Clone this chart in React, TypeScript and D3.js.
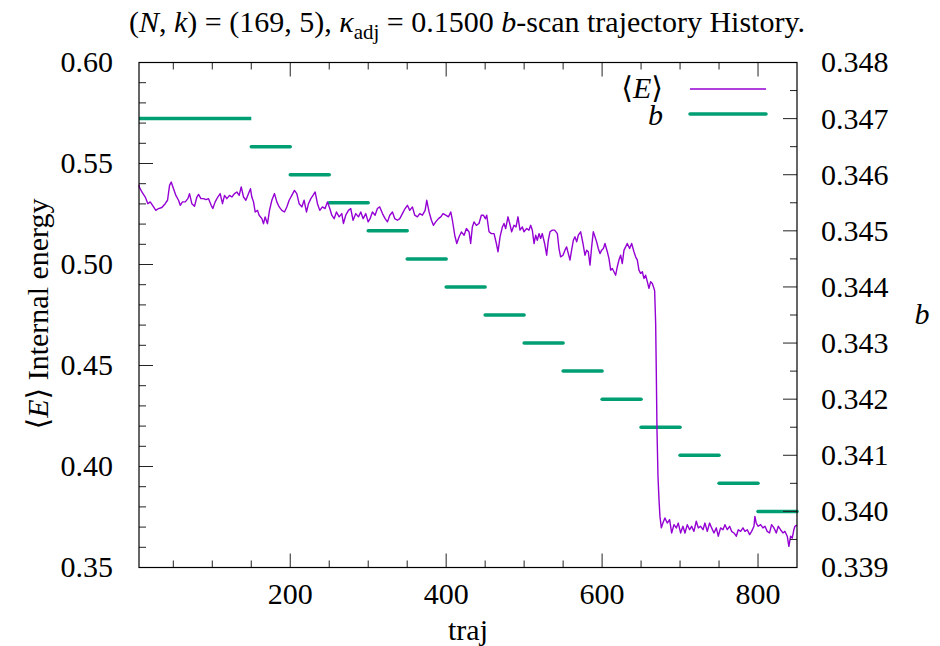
import React from "react";
import * as d3 from "d3";

const TRAJ: number[] = [
  6, 6.3, 9.7, 14, 17.4, 20.4, 24.7, 27.6, 31, 35.3, 39.6, 42.6, 45.2, 47.3, 50.3, 53.3, 56.7, 58.9, 61.8, 65.3,
  68.7, 70.8, 73.8, 77.2, 80.2, 82.4, 85.4, 88.8, 91.8, 95.2, 98.6, 100.7, 103.7, 107.1, 110.1, 113.1, 115.7, 118.7,
  122.1, 125.1, 128.5, 131.5, 134.5, 137.1, 140.1, 143.1, 146.5, 149, 150.7, 152.9, 155, 158, 160.1, 163.6, 165.7,
  167.8, 170.8, 173.4, 176.4, 179.8, 182.8, 185.8, 189.2, 192.6, 195.6, 198.6, 202, 205.4, 208.4,
  211.4, 214.8, 217.8, 220.8, 223.4, 226.4, 229.4, 231.9, 234.9, 237.9, 241.3, 244.7, 247.7, 250.7, 253.3, 256.3,
  259.3, 262.7, 266.1, 268.2, 271.2, 274.7, 277.6, 280.6, 284.1, 287.5, 290.5, 293.5, 296.9, 299.9, 302.4, 305.4,
  308.8, 311.8, 314.8, 318.3, 321.7, 324.7, 327.7, 331.1, 334.1, 337.5, 340.5, 343.9, 347.3, 350.3, 353.3, 356.7,
  359.7, 363.1, 366.1, 369.5, 373, 375.1, 378.1, 381.1, 383.6, 386.6, 390.1, 393.1, 396, 399.5, 402.9, 405.9, 408,
  411, 413.6, 416.6, 419.5, 423, 426, 429.4,
  431.4, 433.6, 435.7, 438.7, 442.1, 445.1, 447.7, 450.3, 452, 455, 458, 461.4, 464.4, 466.5, 469.1, 472.1, 474.2,
  476.3, 479.3, 481.5, 484, 487, 489.6, 492.1, 494.7, 497.7, 499.8, 503.3, 506.2, 508.4, 510.5, 512.7, 514.8, 516.9,
  519.1, 521.2, 523.3, 526.3, 528.9, 531, 533.2, 536.2, 539.1, 542.6, 544.7, 546.8, 549.8, 552.4, 554.5, 556.7,
  558.8, 560.9, 563.1, 565.2, 567.4, 569.5, 572.5, 575.5, 578, 580.2, 582.3, 584.5, 586.6, 588.7, 590.9, 593, 595.1,
  597.3, 599.4, 601.6, 603.7, 606.7, 608.8, 611, 613.1, 615.2, 617.4, 619.5, 621.6, 623.8, 625.9, 628.1, 630.2,
  632.3, 635.3, 637.9, 640.9, 643, 645.2, 647.3, 649.4, 651.6, 653.7, 655.8, 658, 660.1, 662.3, 664.4, 666.5,
  667.4, 668.7, 669.5, 670.4, 671.7, 673, 674.2, 676, 678, 680.6, 683.6, 686.6, 689.2, 692.2, 695.2, 697.7, 700.7,
  703.7, 706.3, 709.3, 712.3, 714.8, 717.8, 720.8, 723.4, 726.4, 729.4, 731.9, 734.9, 737.9, 740.5, 743.5, 746.5,
  749, 752, 755, 757.6, 760.6, 763.6, 766.1, 769.1, 772.1, 774.7, 777.7, 780.7, 783.2, 786.2, 789.2, 791.8, 794.8,
  796, 797.7, 800.3, 803.3, 806.3, 808.9, 811.8, 814.8, 817.4, 820.4, 823.4, 826, 828.9, 831.9, 834.5, 837.5,
  839.6, 841.8, 843.9, 846, 847.3, 850,
];

const ENERGY: number[] = [
  0.5395, 0.5384, 0.5359, 0.5334, 0.5301, 0.531, 0.5285, 0.5268, 0.5277, 0.5282, 0.5301, 0.5318, 0.5392, 0.5408,
  0.5375, 0.5342, 0.5318, 0.5293, 0.531, 0.531, 0.5326, 0.5351, 0.5301, 0.5288, 0.5334, 0.5347, 0.5326, 0.5326,
  0.5321, 0.5326, 0.5293, 0.5277, 0.531, 0.5334, 0.5351, 0.5301, 0.5342, 0.5326, 0.5342, 0.5334, 0.5351, 0.5359,
  0.5342, 0.5384, 0.5334, 0.5318, 0.5351, 0.5375, 0.5334, 0.531, 0.526, 0.5268, 0.5244, 0.5227, 0.5202, 0.5235,
  0.5202, 0.5268, 0.5318, 0.5351, 0.531, 0.5285, 0.5268, 0.526, 0.5285, 0.5318, 0.5342, 0.5367, 0.5351,
  0.5301, 0.5285, 0.5318, 0.526, 0.5301, 0.5326, 0.5343, 0.5359, 0.5301, 0.5268, 0.5285, 0.5277, 0.531, 0.5277,
  0.5244, 0.5227, 0.526, 0.5236, 0.5252, 0.5203, 0.5244, 0.5268, 0.5277, 0.5219, 0.5252, 0.5236, 0.526, 0.5227,
  0.5252, 0.5211, 0.5227, 0.526, 0.5244, 0.5277, 0.5285, 0.5252, 0.5227, 0.5211, 0.5244, 0.526, 0.5227, 0.5219,
  0.5227, 0.5252, 0.5277, 0.5293, 0.5268, 0.5285, 0.5244, 0.5236, 0.5252, 0.5244, 0.5268, 0.5318, 0.526, 0.5219,
  0.5194, 0.5211, 0.5227, 0.5236, 0.5252, 0.5244, 0.5236, 0.526, 0.5219, 0.5145, 0.5104, 0.5137, 0.5161, 0.5145,
  0.5178, 0.5161,
  0.5104, 0.5186, 0.5211, 0.5194, 0.5203, 0.5244, 0.5244, 0.5227, 0.5244, 0.5162, 0.5153, 0.5153, 0.5104, 0.5063,
  0.5137, 0.5186, 0.5203, 0.5178, 0.5236, 0.5203, 0.5162, 0.5194, 0.5186, 0.5236, 0.517, 0.5186, 0.5162, 0.5178,
  0.517, 0.5194, 0.517, 0.5104, 0.5145, 0.512, 0.5153, 0.5129, 0.5153, 0.5104, 0.5046, 0.512, 0.5162, 0.517, 0.517,
  0.5153, 0.5079, 0.5038, 0.5046, 0.5071, 0.5087, 0.5054, 0.5022, 0.5071, 0.512, 0.5137, 0.5112, 0.5145, 0.5162,
  0.5104, 0.5046, 0.5071, 0.5063, 0.4997, 0.5087, 0.5162, 0.5137, 0.5112, 0.5079, 0.5054, 0.5071, 0.5079, 0.5104,
  0.5063, 0.503, 0.4972, 0.498, 0.4964, 0.4947, 0.4989, 0.5022, 0.5046, 0.5005, 0.5071, 0.5087, 0.5104, 0.5079,
  0.5104, 0.5063, 0.5038, 0.5022, 0.4972, 0.4956, 0.4964, 0.4931, 0.4947, 0.4915, 0.4882, 0.4915, 0.4906, 0.4882,
  0.487, 0.4709, 0.4478, 0.4182, 0.3951, 0.3836, 0.3753, 0.3696, 0.372, 0.3745, 0.372, 0.3737, 0.3671, 0.3712,
  0.3696, 0.372, 0.3671, 0.3704, 0.3671, 0.3712, 0.3687, 0.3704, 0.3679, 0.3729, 0.3696, 0.3704, 0.3687, 0.372,
  0.3679, 0.372, 0.3696, 0.3671, 0.3696, 0.3655, 0.3696, 0.3687, 0.3712, 0.3687, 0.3704, 0.3679, 0.3671, 0.3655,
  0.3687, 0.3679, 0.3696, 0.3679, 0.3687, 0.3663, 0.3679, 0.3704, 0.3753, 0.372, 0.3704, 0.3712, 0.3696, 0.3704,
  0.3679, 0.3671, 0.3712, 0.3696, 0.3671, 0.3704, 0.3687, 0.3671, 0.3679, 0.3655, 0.3605, 0.3655, 0.3646, 0.3687,
  0.3704, 0.371,
];

const B_START: number[] = [6, 150, 200, 250, 300, 350, 400, 450, 500, 550, 600, 650, 700, 750, 800];
const B_END: number[] = [150, 200, 250, 300, 350, 400, 450, 500, 550, 600, 650, 700, 750, 800, 850];
const B_VALUE: number[] = [
  0.347, 0.3465, 0.346, 0.3455, 0.345, 0.3445, 0.344, 0.3435, 0.343, 0.3425, 0.342, 0.3415, 0.341, 0.3405, 0.34,
];

const X_TICKS: number[] = [200, 400, 600, 800];
const X_MINOR: number[] = [50, 100, 150, 250, 300, 350, 450, 500, 550, 650, 700, 750];
const Y_TICKS: number[] = [0.35, 0.4, 0.45, 0.5, 0.55, 0.6];
const Y2_TICKS: number[] = [0.339, 0.34, 0.341, 0.342, 0.343, 0.344, 0.345, 0.346, 0.347, 0.348];

const W = 940;
const H = 646;
const L = 139;
const R = 797;
const T = 62.5;
const B = 567.5;
const FONT = '"Liberation Serif", "DejaVu Serif", serif';
const FS = 30;
const PURPLE = "#9400d3";
const GREEN = "#009e73";
const MAJ = 14;
const MIN = 7;

const txt = { fontFamily: FONT } as React.CSSProperties;

export default function App() {
  const x = d3.scaleLinear().domain([6, 850]).range([L, R]);
  const y = d3.scaleLinear().domain([0.35, 0.6]).range([B, T]);
  const y2 = d3.scaleLinear().domain([0.339, 0.348]).range([B, T]);

  const pts: [number, number][] = TRAJ.map((t, i) => [t, ENERGY[i]]);
  const line = d3
    .line<[number, number]>()
    .x((d) => x(d[0]))
    .y((d) => y(d[1]));

  const yMinor: number[] = d3.range(0.36, 0.6, 0.01).filter((v) => Math.abs(v * 20 - Math.round(v * 20)) > 1e-6);
  const y2Minor: number[] = d3.range(0.3395, 0.348, 0.001);

  const tickColor = "#222";
  return (
    <svg width={W} height={H} style={{ position: "absolute", left: 0, top: 0, background: "#fff" }}>
      <rect x={0} y={0} width={W} height={H} fill="#fff" />
      {/* Title */}
      <text x={467} y={32} textAnchor="middle" fontSize={30} fill="#000" style={txt}>
        (<tspan fontStyle="italic">N</tspan>, <tspan fontStyle="italic">k</tspan>) = (169, 5),{" "}
        <tspan fontStyle="italic">κ</tspan>
        <tspan fontSize={21} dy={7}>adj</tspan>
        <tspan dy={-7}> = 0.1500 </tspan>
        <tspan fontStyle="italic">b</tspan>-scan trajectory History.
      </text>

      {/* data */}
      <g>
        {B_VALUE.map((v, i) => (
          <line
            key={"b" + i}
            x1={x(B_START[i])}
            x2={x(B_END[i])}
            y1={y2(v)}
            y2={y2(v)}
            stroke={GREEN}
            strokeWidth={3.5}
            strokeLinecap={i === 0 ? "butt" : "round"}
          />
        ))}
        <path d={line(pts) || ""} fill="none" stroke={PURPLE} strokeWidth={1.4} strokeLinejoin="round" />
      </g>

      {/* ticks */}
      <g stroke={tickColor} strokeWidth={1}>
        {X_TICKS.map((t) => (
          <g key={"xt" + t}>
            <line x1={x(t)} x2={x(t)} y1={B} y2={B - MAJ} />
            <line x1={x(t)} x2={x(t)} y1={T} y2={T + MAJ} />
          </g>
        ))}
        {X_MINOR.map((t) => (
          <g key={"xm" + t}>
            <line x1={x(t)} x2={x(t)} y1={B} y2={B - MIN} />
            <line x1={x(t)} x2={x(t)} y1={T} y2={T + MIN} />
          </g>
        ))}
        {Y_TICKS.map((t) => (
          <line key={"yt" + t} x1={L} x2={L + MAJ} y1={y(t)} y2={y(t)} />
        ))}
        {yMinor.map((t) => (
          <line key={"ym" + t} x1={L} x2={L + MIN} y1={y(t)} y2={y(t)} />
        ))}
        {Y2_TICKS.map((t) => (
          <line key={"y2t" + t} x1={R} x2={R - MAJ} y1={y2(t)} y2={y2(t)} />
        ))}
        {y2Minor.map((t) => (
          <line key={"y2m" + t} x1={R} x2={R - MIN} y1={y2(t)} y2={y2(t)} />
        ))}
      </g>

      {/* frame */}
      <rect x={L} y={T} width={R - L} height={B - T} fill="none" stroke="#000" strokeWidth={1.2} />

      {/* tick labels */}
      <g fontSize={FS} fill="#000">
        {X_TICKS.map((t) => (
          <text key={"xl" + t} x={x(t)} y={604} textAnchor="middle" style={txt}>
            {t}
          </text>
        ))}
        {Y_TICKS.map((t) => (
          <text key={"yl" + t} x={113} y={y(t)} dy="0.33em" textAnchor="end" style={txt}>
            {d3.format(".2f")(t)}
          </text>
        ))}
        {Y2_TICKS.map((t) => (
          <text key={"y2l" + t} x={821} y={y2(t)} dy="0.33em" textAnchor="start" style={txt}>
            {d3.format(".3f")(t)}
          </text>
        ))}
      </g>

      {/* axis labels */}
      <text x={468} y={640} textAnchor="middle" fontSize={FS} style={txt}>
        traj
      </text>
      <text transform="translate(48,314) rotate(-90)" textAnchor="middle" fontSize={FS} style={txt}>
        ⟨<tspan fontStyle="italic">E</tspan>⟩ Internal energy
      </text>
      <text x={922} y={314} dy="0.33em" textAnchor="middle" fontSize={FS} fontStyle="italic" style={txt}>
        b
      </text>

      {/* legend */}
      <g fontSize={FS}>
        <text x={663} y={88} dy="0.33em" textAnchor="end" style={txt}>
          ⟨<tspan fontStyle="italic">E</tspan>⟩
        </text>
        <line x1={690} x2={766} y1={89} y2={89} stroke={PURPLE} strokeWidth={1.4} />
        <text x={663} y={115} dy="0.33em" textAnchor="end" fontStyle="italic" style={txt}>
          b
        </text>
        <line x1={690} x2={766} y1={114} y2={114} stroke={GREEN} strokeWidth={3.5} strokeLinecap="round" />
      </g>
    </svg>
  );
}
